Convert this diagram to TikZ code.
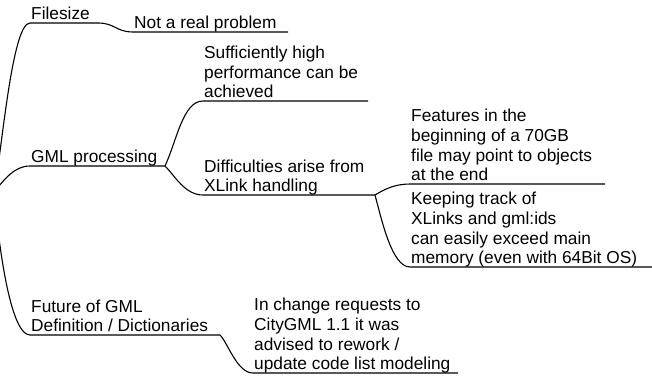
\documentclass[tikz,border=0pt]{standalone}
\usepackage{fontspec}
\setmainfont{Liberation Sans}
\tikzset{
  txt/.style={anchor=south west, inner sep=0pt, align=left, xshift=1pt, yshift=-2.95pt,
              font=\fontsize{17.3}{19.7}\selectfont},
  edge/.style={draw=black, line width=1.1pt, line join=round}
}
\begin{document}
\begin{tikzpicture}[x=1pt,y=-1pt]
\clip (0,0) rectangle (652,382);
% anchor points (start / end of each underline)
\coordinate (root) at (-6,192);
\coordinate (fs-s) at (30,23);   \coordinate (fs-e) at (98,23);
\coordinate (nr-s) at (133,32);  \coordinate (nr-e) at (288,32);
\coordinate (gp-s) at (30,166);  \coordinate (gp-e) at (165,166);
\coordinate (sh-s) at (203,101); \coordinate (sh-e) at (368,101);
\coordinate (da-s) at (203,195); \coordinate (da-e) at (375,195);
\coordinate (fe-s) at (410,184); \coordinate (fe-e) at (605,184);
\coordinate (kt-s) at (410,267); \coordinate (kt-e) at (652,267);
\coordinate (fg-s) at (30,335);  \coordinate (fg-e) at (220,335);
\coordinate (cr-s) at (253,373); \coordinate (cr-e) at (458,373);

% texts
\node[txt] (fs) at (fs-s) {Filesize\strut};
\node[txt] (nr) at (nr-s) {Not a real problem\strut};
\node[txt] (gp) at (gp-s) {GML processing\strut};
\node[txt] (sh) at (sh-s) {Sufficiently high\\performance can be\\achieved\strut};
\node[txt] (da) at (da-s) {Difficulties arise from\\XLink handling\strut};
\node[txt] (fe) at (fe-s) {Features in the\\beginning of a 70GB\\file may point to objects\\at the end\strut};
\node[txt] (kt) at (kt-s) {Keeping track of\\XLinks and gml:ids\\can easily exceed main\\memory (even with 64Bit OS)\strut};
\node[txt] (fg) at (fg-s) {Future of GML\\Definition / Dictionaries\strut};
\node[txt] (cr) at (cr-s) {In change requests to\\CityGML 1.1 it was\\advised to rework /\\update code list modeling\strut};

% connectors
\path[edge] (root) .. controls +(8,-42) and +(-18,0) .. (fs-s) -- (fs-e);
\path[edge] (fs-e) .. controls +(17,0) and +(-17,0) .. (nr-s) -- (nr-e);
\path[edge] (root) .. controls +(10,-12) and +(-16,0) .. (gp-s) -- (gp-e);
\path[edge] (gp-e) .. controls +(12,-26) and +(-20,0) .. (sh-s) -- (sh-e);
\path[edge] (gp-e) .. controls +(10,10) and +(-18,0) .. (da-s) -- (da-e);
\path[edge] (da-e) .. controls +(10,-6) and +(-15,0) .. (fe-s) -- (fe-e);
\path[edge] (da-e) .. controls +(7,26) and +(-18,0) .. (kt-s) -- (kt-e);
\path[edge] (root) .. controls +(6,68) and +(-18,0) .. (fg-s) -- (fg-e);
\path[edge] (fg-e) .. controls +(8,8) and +(-16,0) .. (cr-s) -- (cr-e);
\end{tikzpicture}
\end{document}
